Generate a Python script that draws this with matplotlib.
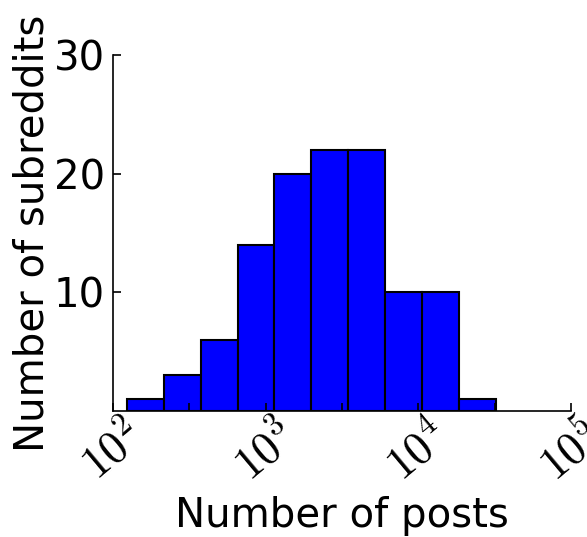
import numpy as np
import matplotlib
matplotlib.use("Agg")
import matplotlib.pyplot as plt

# histogram of posts per subreddit (log bins)
counts = [1, 3, 6, 14, 20, 22, 22, 10, 10, 1]
log_lo, log_hi = 2.09, 4.508
decades = [2, 3, 4, 5]
y_ticks = [10, 20, 30]

plt.rcParams['mathtext.fontset'] = 'cm'
plt.rcParams['font.family'] = 'DejaVu Sans'

edges = np.logspace(log_lo, log_hi, len(counts) + 1)

fig = plt.figure(figsize=(5.87, 5.37), dpi=100)
ax = fig.add_axes([0.1925, 0.2352, 0.7805, 0.6624])

ax.hist(edges[:-1], bins=edges, weights=counts, color='#0000ff',
        edgecolor='black', linewidth=1.5)

ax.set_xscale('log')
ax.set_xlim(10 ** decades[0], 10 ** decades[-1])
ax.set_ylim(0, 30)

ax.set_xticks([10.0 ** d for d in decades])
ax.set_xticklabels([r'$10^{%d}$' % d for d in decades], rotation=40,
                   ha='center', fontsize=33)
ax.set_xticks([10.0 ** (d + 0.5) for d in decades[:-1]], minor=True)
ax.xaxis.set_minor_formatter(matplotlib.ticker.NullFormatter())
ax.set_yticks(y_ticks)
ax.tick_params(axis='y', labelsize=29, pad=6)
ax.tick_params(axis='x', pad=2)

ax.tick_params(which='both', direction='in', length=6, width=1.2,
               top=False, right=False)
for s in ['top', 'right']:
    ax.spines[s].set_visible(False)
for s in ['left', 'bottom']:
    ax.spines[s].set_linewidth(1.2)

ax.set_xlabel('Number of posts', fontsize=29, labelpad=4)
ax.set_ylabel('Number of subreddits', fontsize=29, labelpad=1)

fig.savefig('out.png', dpi=100)
